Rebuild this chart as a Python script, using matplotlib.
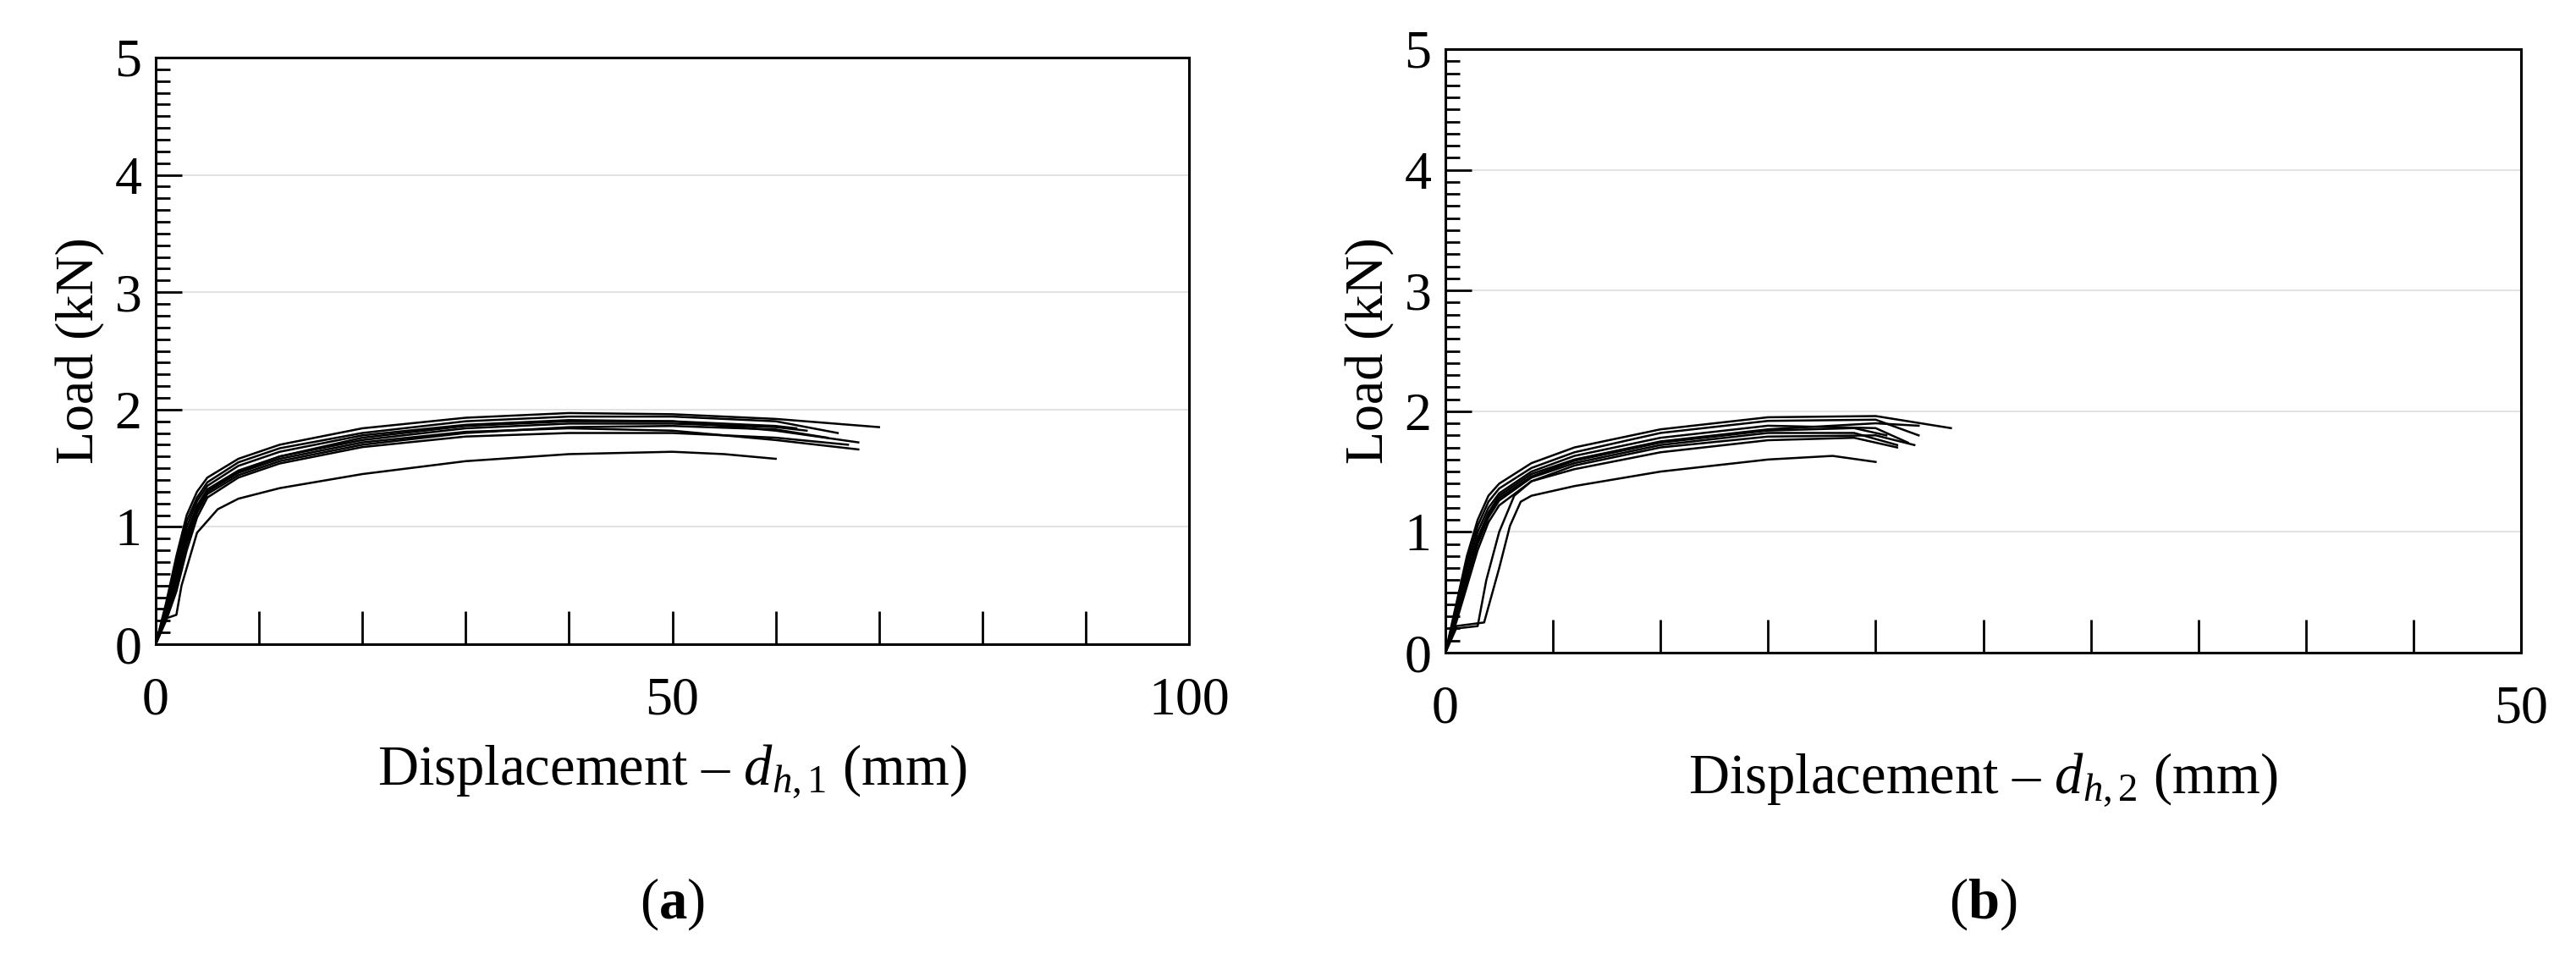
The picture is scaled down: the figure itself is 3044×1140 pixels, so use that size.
import matplotlib as mpl
mpl.use("Agg")
import matplotlib.pyplot as plt
from matplotlib.ticker import MultipleLocator

plt.rcParams['font.family'] = ['Liberation Serif', 'DejaVu Serif']
plt.rcParams['mathtext.fontset'] = 'custom'
plt.rcParams['mathtext.it'] = 'Liberation Serif:italic'
plt.rcParams['mathtext.rm'] = 'Liberation Serif'
plt.rcParams['mathtext.bf'] = 'Liberation Serif:bold'

# panel (a): displacement d_h,1 (mm) vs load (kN), one list per specimen
a_x = [
    [0, 1, 2, 3, 4, 5, 8, 12, 20, 30, 40, 50, 60, 70],
    [0, 1, 2, 3, 4, 5, 8, 12, 20, 30, 40, 50, 60, 66],
    [0, 1, 2, 3, 4, 5, 8, 12, 20, 30, 40, 50, 60, 68],
    [0, 1, 2, 3, 4, 5, 8, 12, 20, 30, 40, 50, 60, 63],
    [0, 1, 2, 3, 4, 5, 8, 12, 20, 30, 40, 50, 60, 68],
    [0, 1, 2, 3, 4, 5, 8, 12, 20, 30, 40, 50, 60, 65],
    [0, 1, 2, 3, 4, 5, 8, 12, 20, 30, 40, 50, 60, 62],
    [0, 1, 2, 3, 4, 5, 8, 12, 20, 30, 40, 50, 60, 67],
    [0, 1, 2, 2.5, 4, 6, 8, 12, 20, 30, 40, 50, 55, 60],
]
a_y = [
    [0, 0.35, 0.75, 1.1, 1.3, 1.42, 1.58, 1.7, 1.84, 1.93, 1.97, 1.96, 1.92, 1.85],
    [0, 0.3, 0.7, 1.05, 1.25, 1.38, 1.55, 1.67, 1.8, 1.9, 1.94, 1.94, 1.9, 1.8],
    [0, 0.3, 0.65, 1.0, 1.22, 1.35, 1.52, 1.64, 1.78, 1.87, 1.91, 1.9, 1.82, 1.72],
    [0, 0.28, 0.6, 0.95, 1.18, 1.32, 1.48, 1.6, 1.74, 1.84, 1.88, 1.88, 1.85, 1.82],
    [0, 0.25, 0.55, 0.9, 1.15, 1.3, 1.46, 1.58, 1.72, 1.81, 1.84, 1.82, 1.74, 1.66],
    [0, 0.22, 0.5, 0.85, 1.12, 1.28, 1.44, 1.56, 1.7, 1.8, 1.85, 1.86, 1.83, 1.76],
    [0, 0.25, 0.55, 0.9, 1.16, 1.3, 1.47, 1.6, 1.76, 1.86, 1.9, 1.9, 1.86, 1.84],
    [0, 0.2, 0.45, 0.8, 1.08, 1.25, 1.42, 1.54, 1.68, 1.77, 1.8, 1.8, 1.76, 1.7],
    [0, 0.22, 0.25, 0.5, 0.95, 1.15, 1.24, 1.33, 1.45, 1.56, 1.62, 1.64, 1.62, 1.58],
]

# panel (b): displacement d_h,2 (mm) vs load (kN)
b_x = [
    [0, 0.5, 1, 1.5, 2, 2.5, 4, 6, 10, 15, 20, 23.5],
    [0, 0.5, 1, 1.5, 2, 2.5, 4, 6, 10, 15, 20, 22],
    [0, 0.5, 1, 1.5, 2, 2.5, 4, 6, 10, 15, 20, 21.5],
    [0, 0.5, 1, 1.5, 2, 2.5, 4, 6, 10, 15, 20, 22],
    [0, 0.5, 1, 1.5, 2, 2.5, 4, 6, 10, 15, 19, 21],
    [0, 0.5, 1, 1.5, 2, 2.5, 4, 6, 10, 15, 19, 20.5],
    [0, 0.5, 1, 1.5, 2, 2.5, 4, 6, 10, 15, 20, 21.8],
    [0, 0.5, 1.8, 2.5, 3.0, 3.5, 4, 6, 10, 15, 18, 20],
    [0, 0.5, 1.5, 1.9, 2.5, 3.2, 4, 6, 10, 15, 19, 21],
]
b_y = [
    [0, 0.4, 0.8, 1.1, 1.3, 1.4, 1.57, 1.7, 1.85, 1.95, 1.96, 1.86],
    [0, 0.35, 0.75, 1.05, 1.25, 1.36, 1.53, 1.66, 1.82, 1.92, 1.93, 1.8],
    [0, 0.32, 0.7, 1.0, 1.2, 1.32, 1.5, 1.63, 1.78, 1.88, 1.86, 1.74],
    [0, 0.3, 0.65, 0.95, 1.16, 1.3, 1.48, 1.6, 1.75, 1.85, 1.9, 1.88],
    [0, 0.28, 0.6, 0.9, 1.12, 1.26, 1.45, 1.57, 1.72, 1.82, 1.82, 1.72],
    [0, 0.3, 0.62, 0.92, 1.14, 1.28, 1.46, 1.59, 1.74, 1.84, 1.86, 1.8],
    [0, 0.25, 0.55, 0.85, 1.08, 1.22, 1.42, 1.55, 1.7, 1.79, 1.8, 1.72],
    [0, 0.22, 0.25, 0.7, 1.05, 1.25, 1.3, 1.38, 1.5, 1.6, 1.63, 1.58],
    [0, 0.2, 0.22, 0.6, 1.0, 1.3, 1.42, 1.52, 1.66, 1.76, 1.78, 1.7],
]

fig = plt.figure(figsize=(30.44, 11.4), dpi=100)
ax1 = fig.add_axes([184/3044, 1 - 761/1140, (1405-184)/3044, (761-68)/1140])
ax2 = fig.add_axes([1708/3044, 1 - 771/1140, (2979-1708)/3044, (771-58)/1140])

panels = [
    (ax1, a_x, a_y, 100, 10, [0, 50, 100], r'Displacement – $d_{h,1}$ (mm)', 'a'),
    (ax2, b_x, b_y, 50, 5, [0, 50], r'Displacement – $d_{h,2}$ (mm)', 'b'),
]
for ax, xs, ys, xmax, xstep, xlabs, xlabel, tag in panels:
    for x, y in zip(xs, ys):
        ax.plot(x, y, color='black', lw=1.8)
    ax.set_xlim(0, xmax)
    ax.set_ylim(0, 5)
    ticks = list(range(0, xmax + 1, xstep))
    ax.set_xticks(ticks, [str(v) if v in xlabs else '' for v in ticks])
    ax.set_yticks(range(6), [str(v) for v in range(6)])
    ax.yaxis.set_minor_locator(MultipleLocator(0.1))
    ax.tick_params(direction='in', which='both', labelsize=46, width=2)
    ax.tick_params(axis='x', length=28, pad=28)
    ax.tick_params(axis='y', which='major', length=22, pad=12)
    ax.tick_params(axis='y', which='minor', length=12)
    for s in ax.spines.values():
        s.set_linewidth(2.2)
    ax.grid(axis='y', color='#dddddd', lw=1.2)
    ax.set_axisbelow(True)
    ax.set_xlabel(xlabel, fontsize=48, labelpad=14)
    ax.set_ylabel('Load (kN)', fontsize=46, labelpad=8)
    pos = ax.get_position()
    fig.text((pos.x0 + pos.x1) / 2, 1 - 1068/1140, '(' + r'$\mathbf{' + tag + '}$' + ')',
             ha='center', va='center', fontsize=48)

fig.savefig('out.png', dpi=100)
